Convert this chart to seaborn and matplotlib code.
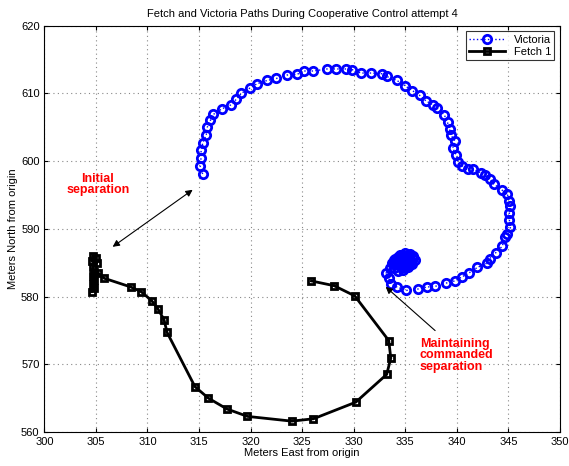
import matplotlib
matplotlib.use("Agg")
import matplotlib.pyplot as plt
import seaborn as sns
import numpy as np
import pandas as pd

# Victoria path (blue circles), in travel order
vic_x = [315.35, 315.1, 315.2, 315.2, 315.35, 315.7, 315.8, 316.1, 316.4, 317.2,
         318.1, 318.6, 319.1, 319.95, 320.6, 321.6, 322.5, 323.5, 324.5, 325.2,
         326.1, 327.4, 328.3, 329.3, 329.85, 330.7, 331.7, 332.7, 333.2, 334.2,
         335.0, 335.7, 336.4, 337.0, 337.7, 338.1, 338.8, 339.1, 339.3, 339.4,
         339.8, 339.6, 339.95, 340.1, 340.5, 341.1, 341.6, 342.3, 342.7, 343.2,
         343.6, 344.4, 344.9, 345.1, 345.2, 345.1, 345.1, 345.2, 344.9, 344.7,
         344.4, 343.8, 343.2, 342.9, 342.0, 341.2, 340.5, 339.8, 339.0, 337.9,
         337.1, 336.2, 335.1, 334.2, 333.6, 333.4, 333.15, 333.5, 333.8, 334.2,
         334.6, 335.0, 335.4, 335.8, 335.9, 335.7, 335.3, 334.8, 334.3, 333.9,
         333.7, 334.0, 334.5, 335.0, 335.5, 335.8, 335.6, 335.1, 334.6, 334.1,
         333.9, 334.3, 334.8, 335.3, 335.6, 335.4, 334.9, 334.4, 334.2, 334.7,
         335.2, 335.5, 335.0, 334.6, 335.1, 334.9]
vic_y = [598.1, 599.3, 600.5, 601.6, 602.6, 603.9, 605.0, 606.0, 606.9, 607.7,
         608.3, 609.1, 610.0, 610.8, 611.4, 611.9, 612.2, 612.7, 612.8, 613.3,
         613.3, 613.6, 613.6, 613.6, 613.5, 613.0, 613.0, 612.9, 612.5, 611.9,
         611.1, 610.4, 609.7, 608.9, 608.3, 607.8, 606.8, 605.7, 604.7, 603.9,
         603.0, 601.9, 600.9, 599.9, 599.3, 598.9, 598.8, 598.3, 597.9, 597.4,
         596.6, 595.7, 595.1, 594.1, 593.3, 592.3, 591.3, 590.2, 589.2, 588.8,
         587.4, 586.5, 585.6, 584.9, 584.3, 583.5, 582.9, 582.3, 582.0, 581.5,
         581.4, 581.1, 580.9, 581.4, 581.9, 582.7, 583.5, 584.2, 584.8, 585.3,
         585.7, 586.0, 586.2, 586.0, 585.4, 584.8, 584.3, 583.9, 583.8, 584.2,
         584.9, 585.6, 586.1, 586.4, 586.3, 585.7, 585.0, 584.5, 584.4, 584.8,
         585.4, 585.9, 586.1, 585.8, 585.2, 584.6, 584.3, 584.7, 585.3, 585.6,
         585.5, 584.9, 584.6, 585.1, 585.3, 585.0]

# Fetch 1 path (black squares), in travel order
fetch_x = [304.7, 305.0, 304.6, 305.1, 304.7, 304.8, 304.7, 304.8, 304.7, 304.8,
           304.6, 305.2, 305.8, 308.4, 309.4, 310.4, 311.0, 311.6, 311.9, 314.6,
           315.9, 317.7, 319.7, 324.0, 326.1, 330.2, 333.2, 333.6, 333.4, 330.1,
           328.1, 325.9]
fetch_y = [586.0, 585.7, 585.2, 585.0, 584.4, 583.6, 583.0, 582.4, 581.8, 581.2,
           580.7, 583.5, 582.7, 581.4, 580.7, 579.4, 578.2, 576.6, 574.7, 566.7,
           565.0, 563.4, 562.3, 561.6, 561.95, 564.4, 568.5, 570.9, 573.5, 580.1,
           581.6, 582.3]

plt.rcParams['font.family'] = ['Liberation Sans', 'DejaVu Sans']

fig = plt.figure(figsize=(5.69, 4.66), dpi=100)
ax = fig.add_axes([0.078, 0.073, 0.906, 0.872])

sns.lineplot(ax=ax, x=vic_x, y=vic_y, sort=False, estimator=None, color='blue',
             linestyle=':', linewidth=1, marker='o', markersize=6,
             markerfacecolor='none', markeredgecolor='blue', markeredgewidth=2,
             label='Victoria')
sns.lineplot(ax=ax, x=fetch_x, y=fetch_y, sort=False, estimator=None, color='black',
             linewidth=2, marker='s', markersize=5, markerfacecolor='none',
             markeredgecolor='black', markeredgewidth=2, label='Fetch 1')

ax.set_xlim(300, 350)
ax.set_ylim(560, 620)
ax.set_xticks(np.arange(300, 351, 5))
ax.set_yticks(np.arange(560, 621, 10))
ax.tick_params(direction='in', labelsize=8, top=True, right=True, length=3)
ax.grid(True, linestyle=(0, (1, 3)), color='#888888', linewidth=0.8)
for s in ax.spines.values():
    s.set_linewidth(0.8)
    s.set_color('black')

ax.set_title('Fetch and Victoria Paths During Cooperative Control attempt 4', fontsize=8)
ax.set_xlabel('Meters East from origin', fontsize=8, labelpad=1)
ax.set_ylabel('Meters North from origin', fontsize=8, labelpad=2)

leg = ax.legend(loc='upper right', fontsize=8, frameon=True, fancybox=False,
                edgecolor='black', handlelength=3.2, borderpad=0.3, labelspacing=0.2)
leg.get_frame().set_linewidth(0.8)

# annotations
ax.annotate('', xy=(306.4, 587.1), xytext=(314.6, 596.0),
            arrowprops=dict(arrowstyle='<|-|>', color='black', lw=0.8, mutation_scale=10))
ax.text(305.2, 596.6, 'Initial\nseparation', color='red', fontweight='bold',
        fontsize=9, ha='center', va='center', linespacing=0.9)
ax.annotate('', xy=(332.9, 581.7), xytext=(338.1, 574.7),
            arrowprops=dict(arrowstyle='-|>', color='black', lw=0.8, mutation_scale=10))
ax.text(336.4, 571.3, 'Maintaining\ncommanded\nseparation', color='red',
        fontweight='bold', fontsize=9, ha='left', va='center', linespacing=0.9)

fig.savefig('out.png', dpi=100)
